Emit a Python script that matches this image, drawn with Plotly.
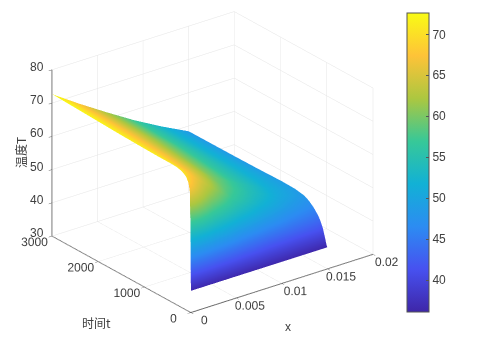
import math
import plotly.graph_objects as go

x_pos = [0, 0.003, 0.006, 0.009, 0.012, 0.015]
t_pos = [0, 5, 20, 50, 100, 150, 200, 300, 400, 500, 700, 1000, 1500, 2000, 3000]
temps = [
    [36.5, 36.5, 36.5, 36.5, 36.5, 36.5],
    [52.0, 38.5, 36.8, 36.6, 36.5, 36.5],
    [66.0, 46.0, 39.5, 37.8, 37.2, 37.0],
    [68.5, 53.0, 44.5, 40.5, 39.2, 38.8],
    [70.0, 57.5, 49.5, 45.0, 42.8, 41.5],
    [70.6, 60.0, 52.5, 47.8, 44.8, 43.2],
    [71.0, 61.8, 54.5, 49.8, 46.3, 44.5],
    [71.4, 64.0, 57.0, 52.3, 48.8, 46.2],
    [71.5, 64.8, 58.2, 53.6, 50.0, 47.4],
    [71.5, 65.3, 59.0, 54.5, 50.8, 48.2],
    [71.5, 65.8, 60.0, 55.4, 51.5, 48.7],
    [71.6, 66.2, 60.6, 55.8, 51.9, 48.8],
    [71.8, 66.6, 61.2, 56.3, 52.2, 48.6],
    [72.1, 66.9, 61.7, 56.7, 52.3, 48.5],
    [72.7, 67.2, 62.0, 57.0, 52.5, 48.4],
]
x_ticks = [0, 0.005, 0.01, 0.015, 0.02]
x_labels = ["0", "0.005", "0.01", "0.015", "0.02"]
t_ticks = [0, 1000, 2000, 3000]
z_ticks = [30, 40, 50, 60, 70, 80]
cb_ticks = [40, 45, 50, 55, 60, 65, 70]

parula = [
    [0.0, "#3E26A8"], [0.143, "#4751F0"], [0.286, "#2C8CF2"], [0.429, "#12B1D5"],
    [0.571, "#37C898"], [0.714, "#ACC740"], [0.857, "#FEC338"], [1.0, "#F9FB15"],
]
FONT = "Liberation Sans"
CJK = "Noto Sans CJK SC"
INK = "#404040"

az = math.radians(232.7)
el = math.radians(24.8)
r = 2.2
shift = -0.14
eye = dict(x=r * math.cos(az) * math.cos(el), y=r * math.sin(az) * math.cos(el), z=r * math.sin(el) + shift)

def axis(**kw):
    d = dict(
        title=dict(text=""),
        showbackground=False, showgrid=True, gridcolor="#e4e4e4", gridwidth=1,
        showline=True, linecolor="#666666", linewidth=2, ticks="outside", ticklen=4,
        tickcolor="#666666", zeroline=False, showspikes=False, tickangle=0,
        tickfont=dict(family=FONT, size=12, color=INK))
    d.update(kw)
    return d

z_tick_annotations = [
    dict(x=0, y=3000, z=v, text=str(v), showarrow=False, xanchor="center", yanchor="middle",
         xshift=-15, yshift=3, font=dict(family=FONT, size=12, color=INK))
    for v in z_ticks
]

fig = go.Figure(go.Surface(
    x=x_pos, y=t_pos, z=temps, colorscale=parula, cmin=36.1, cmax=72.6,
    lighting=dict(ambient=1, diffuse=0, specular=0, fresnel=0, roughness=1),
    hoverinfo="skip",
    colorbar=dict(
        x=399 / 492, xanchor="left", xref="paper", y=(353 - 304) / 353, yanchor="bottom",
        len=299, lenmode="pixels", thickness=22, thicknessmode="pixels",
        tickvals=cb_ticks, ticks="inside", ticklen=3, tickcolor="#555555",
        outlinecolor="#555555", outlinewidth=1, borderwidth=0,
        tickfont=dict(family=FONT, size=12, color=INK), xpad=0, ypad=0),
))
fig.update_layout(
    width=492, height=353, margin=dict(l=0, r=0, t=0, b=0), paper_bgcolor="white",
    font=dict(family=FONT, color=INK),
    scene=dict(
        domain=dict(x=[0, 409 / 492], y=[0, 1]),
        aspectmode="manual", aspectratio=dict(x=1.298, y=1.298, z=1.038),
        camera=dict(eye=eye, up=dict(x=0, y=0, z=1), center=dict(x=0, y=0, z=shift),
                    projection=dict(type="orthographic")),
        xaxis=axis(range=[0, 0.02], tickvals=x_ticks, ticktext=x_labels),
        yaxis=axis(range=[0, 3000], tickvals=t_ticks),
        zaxis=axis(range=[30, 80], tickvals=z_ticks, showticklabels=False),
        annotations=z_tick_annotations,
    ),
    annotations=[
        dict(text="x", x=280 / 492, y=1 - 319 / 353, xref="paper", yref="paper", showarrow=False,
             xanchor="center", yanchor="middle", font=dict(family=FONT, size=12, color=INK)),
        dict(text="时间t", x=88 / 492, y=1 - 314 / 353, xref="paper", yref="paper", showarrow=False,
             xanchor="center", yanchor="middle", font=dict(family=CJK, size=12, color=INK)),
        dict(text="温度T", x=12 / 492, y=1 - 145 / 353, xref="paper", yref="paper", showarrow=False,
             xanchor="center", yanchor="middle", textangle=-90, font=dict(family=CJK, size=12, color=INK)),
    ],
)
fig.write_html("out.html")
